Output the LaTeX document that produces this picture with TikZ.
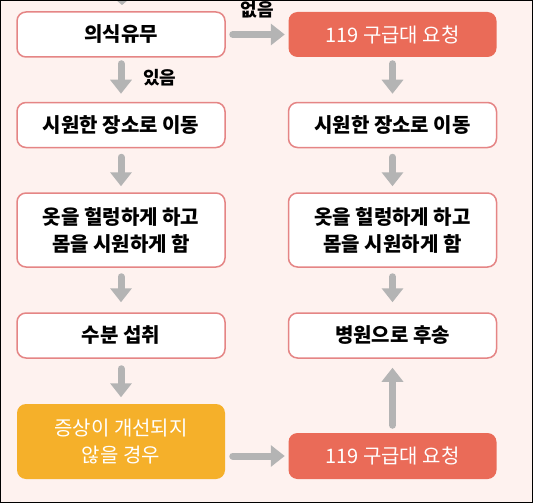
\documentclass[tikz,border=0pt]{standalone}
\usepackage{fontspec}
\newfontfamily\kr{Noto Sans CJK KR}
\usetikzlibrary{arrows.meta}
\definecolor{bgc}{HTML}{FEF2EF}
\definecolor{bordc}{HTML}{E58585}
\definecolor{redc}{HTML}{EA6B58}
\definecolor{orangec}{HTML}{F5B02A}
\definecolor{arrc}{HTML}{B4B4B4}
\begin{document}
\begin{tikzpicture}[x=1pt,y=-1pt,
  box/.style={draw=bordc, line width=1.5pt, fill=white, rounded corners=9pt,
    minimum width=208pt, minimum height=45pt, align=center, inner sep=0pt,
    font=\kr\bfseries\fontsize{20}{27}\selectfont},
  redbox/.style={box, draw=none, fill=redc, text=white,
    font=\kr\fontsize{20}{27}\selectfont},
  orangebox/.style={redbox, fill=orangec},
  arr/.style={draw=arrc, line width=7pt, line cap=round,
    -{Triangle[width=21pt,length=14pt]}},
  lbl/.style={font=\kr\bfseries\fontsize{18}{20}\selectfont, inner sep=0pt}
]
\useasboundingbox (0,0) rectangle (533,503);
\fill[bgc] (0,0) rectangle (533,503);
% top arrow tip from above (cut off)
\fill[arrc] (116,0) -- (128,0) -- (122,5) -- cycle;

% left column
\node[box] (l1) at (121,34.5) {의식유무};
\node[box] (l2) at (121,125) {시원한 장소로 이동};
\node[box, minimum height=74pt] (l3) at (121,230) {옷을 헐렁하게 하고\\몸을 시원하게 함};
\node[box] (l4) at (121,335.5) {수분 섭취};
\node[orangebox, minimum height=75pt] (l5) at (121,441.5) {증상이 개선되지\\않을 경우};

% right column
\node[redbox] (r1) at (392.5,34.5) {119 구급대 요청};
\node[box] (r2) at (392.5,125) {시원한 장소로 이동};
\node[box, minimum height=74pt] (r3) at (392.5,230) {옷을 헐렁하게 하고\\몸을 시원하게 함};
\node[box] (r4) at (392.5,335.5) {병원으로 후송};
\node[redbox, minimum height=46pt] (r5) at (392.5,456) {119 구급대 요청};

% vertical arrows left
\draw[arr] ([yshift=-6pt]l1.south) -- ([yshift=8pt]l2.north);
\draw[arr] ([yshift=-9pt]l2.south) -- ([yshift=6pt]l3.north);
\draw[arr] ([yshift=-9pt]l3.south) -- ([yshift=10pt]l4.north);
\draw[arr] ([yshift=-10pt]l4.south) -- ([yshift=6pt]l5.north);
% vertical arrows right
\draw[arr] ([yshift=-6pt]r1.south) -- ([yshift=8pt]r2.north);
\draw[arr] ([yshift=-9pt]r2.south) -- ([yshift=6pt]r3.north);
\draw[arr] ([yshift=-9pt]r3.south) -- ([yshift=10pt]r4.north);
\draw[arr] ([yshift=7pt]r5.north) -- ([yshift=-9pt]r4.south);
% horizontal arrows
\draw[arr] ([xshift=7pt]l1.east) -- ([xshift=-3pt]r1.west);
\draw[arr] ([xshift=7pt]l5.east |- r5.west) -- ([xshift=-3pt]r5.west);

% labels
\node[lbl, anchor=west] (yes) at (143,78) {있음};
\node[lbl] (no) at (257.5,10) {없음};

\draw[black, line width=1.2pt] (0.6,0.6) rectangle (532.4,502.4);
\end{tikzpicture}
\end{document}
